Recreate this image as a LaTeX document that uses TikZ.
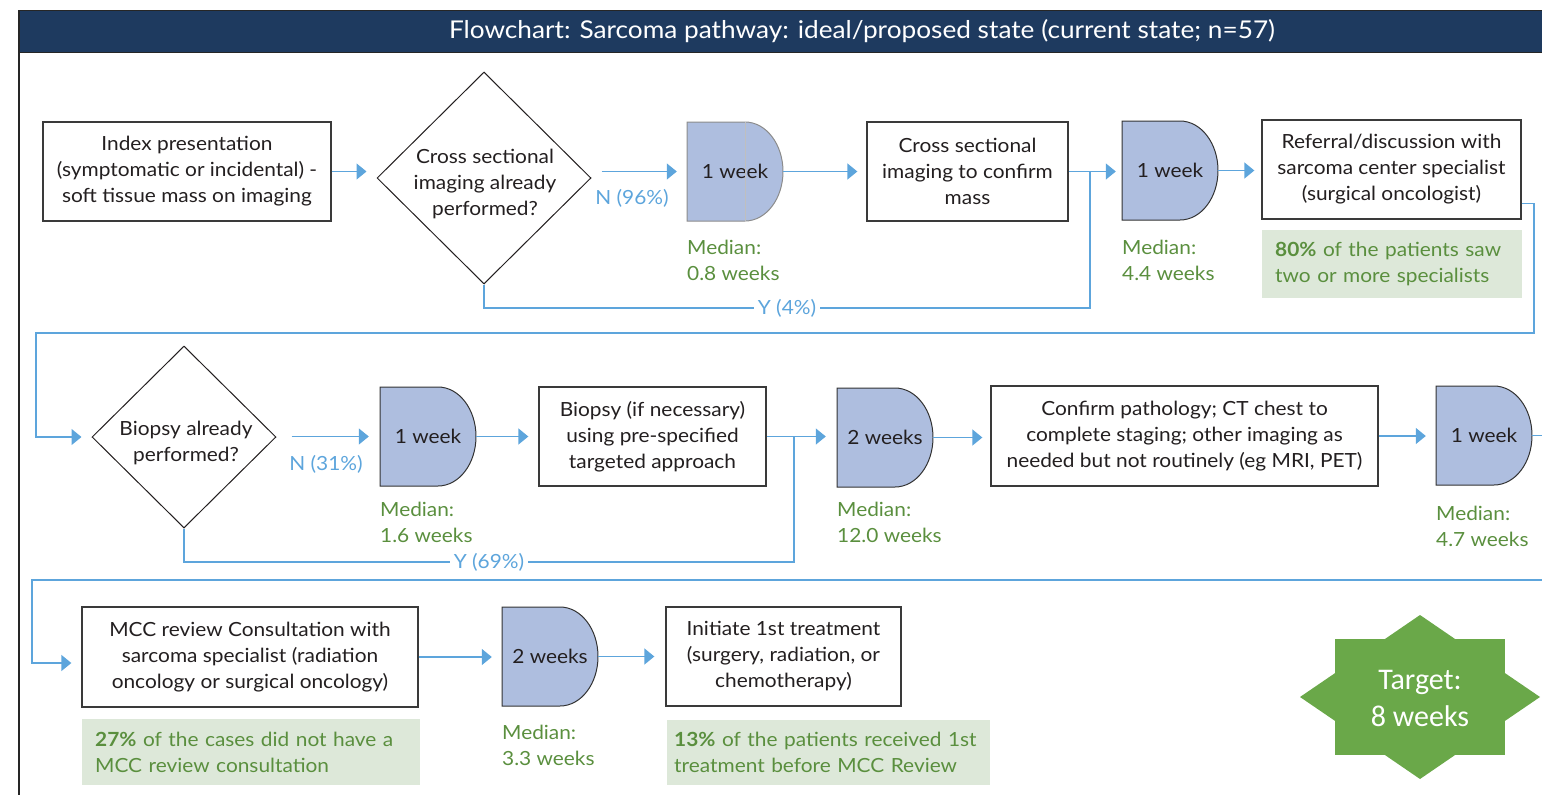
\documentclass[tikz,border=0pt]{standalone}
\usepackage{fontspec}
\setmainfont{Lato}[FakeStretch=1.07]
\newfontfamily\starfont{Carlito}
\usetikzlibrary{arrows.meta,shapes.geometric,calc}

\definecolor{navy}{HTML}{1E3A5F}
\definecolor{boxgray}{HTML}{3A3A3A}
\definecolor{txtgray}{HTML}{231F20}
\definecolor{lblue}{HTML}{5DA5DC}
\definecolor{delayfill}{HTML}{AEBEDF}
\definecolor{delayline}{HTML}{333333}
\definecolor{mgreen}{HTML}{5A8F3E}
\definecolor{notefill}{HTML}{DDE8D9}
\definecolor{stargreen}{HTML}{6AA849}

\newcommand{\mainsz}{\fontsize{19.5}{26}\selectfont}

% delay shape: flat top and bottom, half-ellipse on the right
% #1 name, #2 left x, #3 centre y, #4 label, #5 border colour
\newcommand{\delaybox}[5]{%
  \path[draw=#5, line width=1pt, fill=delayfill]
    (#2,#3-49.5) -- (#2+58,#3-49.5)
    .. controls (#2+78.99,#3-49.5) and (#2+96,#3-27.34) .. (#2+96,#3)
    .. controls (#2+96,#3+27.34) and (#2+78.99,#3+49.5) .. (#2+58,#3+49.5)
    -- (#2,#3+49.5) -- cycle;
  \node[inner sep=0pt, minimum width=96pt, minimum height=99pt,
        font=\mainsz, text=txtgray] (#1) at (#2+48,#3) {#4};
}

\begin{document}
\begin{tikzpicture}[x=1pt,y=-1pt,
  box/.style={draw=boxgray, line width=1.3pt, fill=white, align=center,
              inner sep=0pt, text=txtgray, font=\mainsz},
  dia/.style={draw=txtgray, line width=1pt, shape=diamond, inner sep=0pt},
  flow/.style={draw=lblue, line width=1.3pt,
               -{Triangle[length=10pt,width=16pt]}, shorten >=10pt},
  link/.style={draw=lblue, line width=1.3pt},
  lab/.style={text=lblue, font=\mainsz, fill=white, inner sep=4pt},
  med/.style={text=mgreen, font=\mainsz, align=left, anchor=north west,
              inner sep=0pt},
  note/.style={fill=notefill, text=mgreen, font=\mainsz, align=left,
               anchor=north west, inner xsep=13pt, inner ysep=0pt},
  dtext/.style={text=txtgray, font=\mainsz, align=center, inner sep=0pt}]

\useasboundingbox (0,0) rectangle (1542,795);

% title band and frame
\fill[navy] (19,10) rectangle (1542,52);
\draw[black!85, line width=1.2pt] (19,10.6) -- (1542,10.6);
\draw[black!85, line width=1pt] (19,52) -- (1542,52);
\draw[black!85, line width=2pt] (19,10) -- (19,795);
\node[text=white, font=\fontsize{24.5}{28}\selectfont] (title) at (862,31)
  {Flowchart: Sarcoma pathway: ideal/proposed state (current state; n=57)};

% ---------- first row ----------
\node[box, minimum width=288pt, minimum height=99pt] (idx) at (187,171.5)
  {Index presentation\\(symptomatic or incidental) -\\soft tissue mass on imaging};
\node[dia, minimum width=214pt, minimum height=212pt] (d1) at (484,178) {};
\node[dtext] (d1t) at (485,184) {Cross sectional\\imaging already\\performed?};
\delaybox{dl1}{687}{171.5}{1 week}{black!45}
\draw[black!25, line width=0.6pt] (745,122) -- (745,221);
\node[med] (m1) at (687,240) {Median:\\0.8 weeks};
\node[box, minimum width=201pt, minimum height=99pt] (cs) at (967.5,171.5)
  {Cross sectional\\imaging to confirm\\mass};
\delaybox{dl2}{1122}{170.5}{1 week}{delayline}
\node[med] (m2) at (1122,240) {Median:\\4.4 weeks};
\node[box, minimum width=259pt, minimum height=99pt] (ref) at (1391.5,169.5)
  {Referral/discussion with\\sarcoma center specialist\\(surgical oncologist)};
\node[note, minimum width=260pt, minimum height=68pt, text width=234pt] (n1) at (1262,230)
  {\textbf{80\%} of the patients saw\\two or more specialists};

% ---------- second row ----------
\node[dia, minimum width=184pt, minimum height=182pt] (d2) at (184,437) {};
\node[dtext] (d2t) at (186,443) {Biopsy already\\performed?};
\delaybox{dl3}{380}{436.5}{1 week}{delayline}
\node[med] (m3) at (380,502) {Median:\\1.6 weeks};
\node[box, minimum width=227pt, minimum height=99pt] (bx) at (652.5,436.5)
  {Biopsy (if necessary)\\using pre-specified\\targeted approach};
\delaybox{dl4}{837}{437.5}{2 weeks}{delayline}
\node[med] (m4) at (837,502) {Median:\\12.0 weeks};
\node[box, minimum width=387pt, minimum height=100pt] (cp) at (1184.5,436)
  {Confirm pathology; CT chest to\\complete staging; other imaging as\\needed but not routinely (eg MRI, PET)};
\delaybox{dl5}{1436}{435.5}{1 week}{delayline}
\node[med] (m5) at (1436,506) {Median:\\4.7 weeks};

% ---------- third row ----------
\node[box, minimum width=336pt, minimum height=100pt] (mcc) at (250,657)
  {MCC review Consultation with\\sarcoma specialist (radiation\\oncology or surgical oncology)};
\node[note, minimum width=338pt, minimum height=66pt, text width=312pt] (n2) at (82,719)
  {\textbf{27\%} of the cases did not have a\\MCC review consultation};
\delaybox{dl6}{502}{656.5}{2 weeks}{delayline}
\node[med] (m6) at (502,725) {Median:\\3.3 weeks};
\node[box, minimum width=235pt, minimum height=99pt] (init) at (783.5,656.5)
  {Initiate 1st treatment\\(surgery, radiation, or\\chemotherapy)};
\node[note, minimum width=323pt, minimum height=65pt, text width=309pt,
      inner xsep=7pt] (n3) at (667,720)
  {\textbf{13\%} of the patients received 1st\\treatment before MCC Review};

% ---------- connectors, first row ----------
\coordinate (j1) at (1090,171.5);
\coordinate (yb1) at (1090,308);
\draw[flow] (idx.east) -- (idx.east -| d1.west);
\draw[flow] ($(d1.east |- dl1.west)+(10,0)$) -- (dl1.west);
\node[text=lblue, font=\mainsz] (n96) at (632,198) {N (96\%)};
\draw[flow, shorten >=9pt] (dl1.east) -- (dl1.east -| cs.west);
\draw[flow, shorten >=6pt] (cs.east) -- (cs.east -| dl2.west);
\draw[link] (d1.south) |- (yb1) node[lab, pos=0.75] (y4) {Y (4\%)} -- (j1);
\draw[flow, shorten >=7pt] (dl2.east) -- (dl2.east -| ref.west);

% link down to the second row
\coordinate (r1) at ($(ref.south east)+(0,-16)$);
\draw[flow] (r1) -| (1534,333) -| (36,437) -- (d2.west);

% ---------- connectors, second row ----------
\coordinate (j2) at (794,436.5);
\coordinate (yb2) at (794,562);
\draw[flow, shorten >=11pt] ($(d2.east |- dl3.west)+(15,0)$) -- (dl3.west);
\node[text=lblue, font=\mainsz] (n31) at (326,464) {N (31\%)};
\draw[flow] (dl3.east) -- (dl3.east -| bx.west);
\draw[flow, shorten >=11pt] (bx.east) -- (bx.east -| dl4.west);
\draw[link] (d2.south) |- (yb2) node[lab, pos=0.75] (y69) {Y (69\%)} -- (j2);
\draw[flow, shorten >=8pt] (dl4.east) -- (dl4.east -| cp.west);
\draw[flow] (cp.east) -- (cp.east -| dl5.west);

\coordinate (ex1) at (1542,435.5);
\draw[link] (dl5.east) -- (ex1);

% link down to the third row
\coordinate (ex2) at (1542,580);
\coordinate (k3) at (32,663);
\draw[flow] (ex2) -| (k3) -- (mcc.west |- k3);

% ---------- connectors, third row ----------
\draw[flow] (mcc.east) -- (mcc.east -| dl6.west);
\draw[flow, shorten >=11pt] (dl6.east) -- (dl6.east -| init.west);

% target badge: eight-pointed star
\fill[stargreen] plot[samples at={0,...,15}, variable=\t]
  ({1420+120*(1-0.235*mod(\t,2))*cos(22.5*\t)},
   {697+82*(1-0.235*mod(\t,2))*sin(22.5*\t)}) -- cycle;
\node[text=white, align=center, font=\starfont\fontsize{30}{37}\selectfont]
  (star) at (1420,698) {Target:\\8 weeks};

\end{tikzpicture}
\end{document}
